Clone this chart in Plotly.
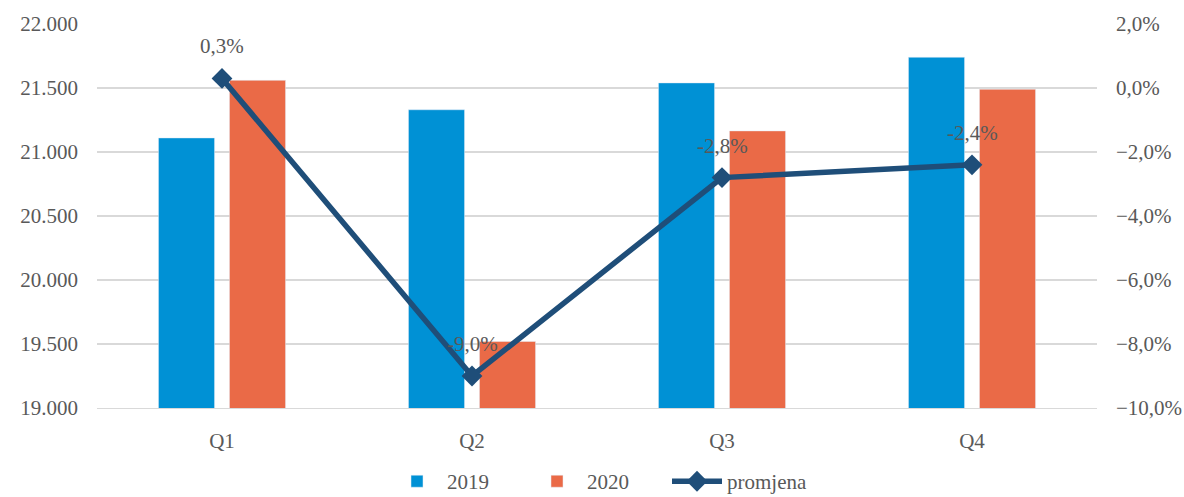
import plotly.graph_objects as go

categories = ["Q1", "Q2", "Q3", "Q4"]
values_2019 = [21110, 21330, 21540, 21740]
values_2020 = [21560, 19520, 21165, 21490]
change = [0.003, -0.090, -0.028, -0.024]
change_labels = ["0,3%", "-9,0%", "-2,8%", "-2,4%"]

FONT = "Times New Roman, Liberation Serif, serif"
GREY = "#595959"

fig = go.Figure()
fig.add_trace(go.Bar(x=categories, y=values_2019, name="2019",
                     marker=dict(color="#0091D5")))
fig.add_trace(go.Bar(x=categories, y=values_2020, name="2020",
                     marker=dict(color="#EA6A47")))
fig.add_trace(go.Scatter(x=categories, y=change, name="promjena", yaxis="y2",
                         mode="lines+markers",
                         line=dict(color="#1F4E79", width=5.5),
                         marker=dict(symbol="diamond", size=16, color="#1F4E79")))

for c, v, t in zip(categories, change, change_labels):
    fig.add_annotation(x=c, y=v, yref="y2", text=t, showarrow=False,
                       yshift=32, font=dict(family=FONT, size=21, color=GREY))

fig.update_layout(
    width=1184, height=497,
    margin=dict(l=97, r=87, t=24, b=89, autoexpand=False),
    paper_bgcolor="white", plot_bgcolor="white",
    separators=",.",
    font=dict(family=FONT, size=21, color=GREY),
    barmode="group", bargap=0.432, bargroupgap=0.21,
    xaxis=dict(showgrid=False, showline=True, linecolor="#D9D9D9", linewidth=1,
               ticks="", ticklabelstandoff=14, automargin=False,
               tickfont=dict(family=FONT, size=21, color=GREY)),
    yaxis=dict(range=[19000, 22000], dtick=500, tickformat=",d",
               showgrid=True, gridcolor="#D9D9D9", gridwidth=1.5,
               zeroline=False, showline=False, ticks="", ticklabelstandoff=18,
               automargin=False,
               tickfont=dict(family=FONT, size=21, color=GREY)),
    yaxis2=dict(range=[-0.10, 0.02], dtick=0.02, tickformat=".1%",
                overlaying="y", side="right", showgrid=False,
                zeroline=False, showline=False, ticks="", ticklabelstandoff=18,
                automargin=False,
                tickfont=dict(family=FONT, size=21, color=GREY)),
    legend=dict(orientation="h", x=0.5, xanchor="center", y=-0.245,
                yanchor="bottom", font=dict(family=FONT, size=21, color=GREY),
                traceorder="normal", itemwidth=50, entrywidth=75,
                tracegroupgap=0),
    showlegend=True,
)

fig.write_html("out.html")
